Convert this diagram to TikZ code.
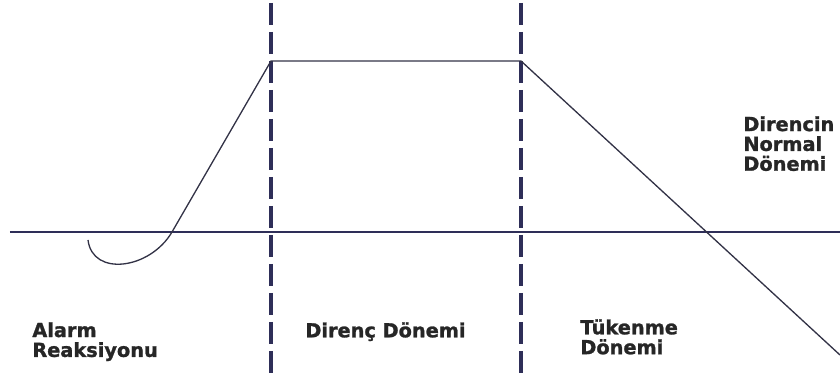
\documentclass[tikz,border=0pt]{standalone}
\usepackage{fontspec}
\newfontfamily\phasefont{DejaVu Sans Bold}[FakeBold=1.3]
\usetikzlibrary{arrows.meta}

\definecolor{navyline}{RGB}{46,46,88}
\definecolor{curveline}{RGB}{50,50,70}

\begin{document}
\begin{tikzpicture}[
    every node/.style={font=\phasefont\fontsize{11}{11.3}\selectfont},
    >=Stealth,
    phase/.style={anchor=north west, inner sep=0pt, align=left, text=black!85},
    divider/.style={line width=2.4pt, navyline, dash pattern=on 0.44cm off 0.14cm},
    stress/.style={line width=0.75pt, curveline},
]

\useasboundingbox (0,0) rectangle (16.8,7.74);

% === Key points of the curve ===
\coordinate (start) at (1.76,2.94);
\coordinate (cross1) at (3.44,3.1);
\coordinate (peakL) at (5.42,6.52);
\coordinate (peakR) at (10.42,6.52);
\coordinate (endR) at (16.8,0.64);

% === Normal level ===
\draw[line width=1.1pt, navyline] (0.2,3.1) -- (16.8,3.1);

% === Phase dividers ===
\draw[divider] (5.42,7.68) -- (5.42,0.14);
\draw[divider] (10.42,7.68) -- (10.42,0.14);

% === Resistance curve ===
\draw[stress] (start) .. controls (1.85,2.2) and (3.0,2.35) .. (cross1)
    -- (peakL) -- (peakR) -- (endR);

% === Phase labels ===
\node[phase] (alarm) at (0.64,1.30) {Alarm\\Reaksiyonu};
\node[phase] (direnc) at (6.1,1.30) {Direnç Dönemi};
\node[phase] (tukenme) at (11.6,1.36) {Tükenme\\Dönemi};
\node[phase] (normal) at (14.86,5.42) {Direncin\\Normal\\Dönemi};

\end{tikzpicture}
\end{document}
